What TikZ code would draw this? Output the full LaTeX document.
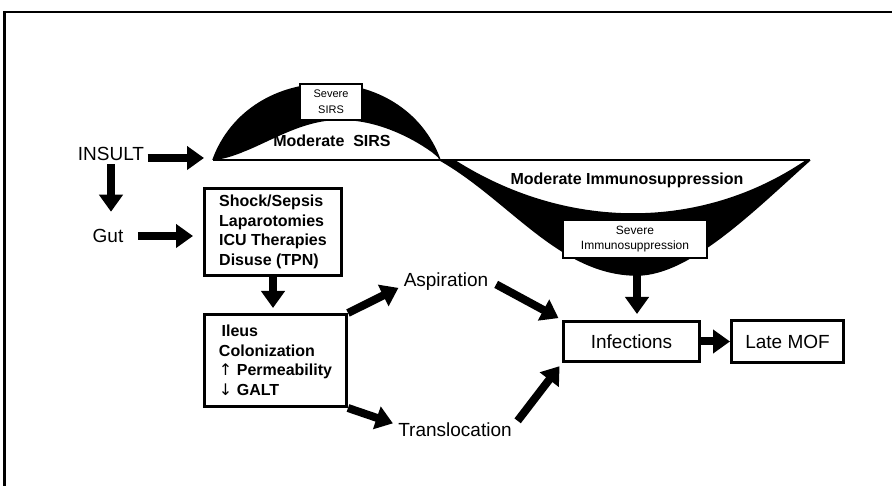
\documentclass[tikz,border=0pt]{standalone}
\usepackage{fontspec}
\setmainfont{Liberation Sans}
\newfontfamily\arrowfont{DejaVu Sans}
\usetikzlibrary{arrows.meta}
\begin{document}
\begin{tikzpicture}[x=1pt,y=-1pt,
  fat/.style={line width=8pt,-{Triangle[length=17pt,width=23pt]}},
  box/.style={draw,line width=3pt,inner sep=0pt,align=left,fill=white},
  smallbox/.style={draw,line width=1.6pt,inner sep=0pt,align=center,fill=white},
  big/.style={font=\fontsize{19}{22}\selectfont},
  boxtxt/.style={font=\bfseries\fontsize{16}{19.5}\selectfont},
  wavetxt/.style={font=\bfseries\fontsize{16}{19}\selectfont},
  declare function={
    pw(\s,\e)=exp(\e*ln(max(\s,0.01)));
  },
  ]
\useasboundingbox (0,0) rectangle (892,486);
% frame
\draw[line width=2.5pt] (4.5,486) -- (4.5,12) -- (892,12);

% wave coordinates
\coordinate (waveL) at (213,160);
\coordinate (cross) at (440,160);
\coordinate (waveR) at (810,160);
\coordinate (trough) at (637,275);
\coordinate (wavein) at (204,158);

% upper lobe (black band)
\fill (waveL) .. controls (250,59) and (403,59) .. (cross)
 -- plot[domain=440:340,samples=50] ({\x},{160-40*pw(sin(90*((440-\x)/100)),0.8)})
 -- plot[domain=340:213,samples=60] ({\x},{160-40*pw((1-cos(180*((\x-213)/127)))/2,0.8)})
 -- cycle;
% lower lobe (black band)
\fill (cross) .. controls (510,200) and (560,275) .. (trough)
 .. controls (690,275) and (755,209) .. (waveR)
 -- (806,160) .. controls (700,232) and (565,230) .. (455,160) -- cycle;
% outline of the S curve
\draw[line width=1.5pt] (waveL) .. controls (250,59) and (403,59) .. (cross)
 .. controls (510,200) and (560,275) .. (trough)
 .. controls (690,275) and (755,209) .. (waveR);
\draw[line width=1.5pt] (waveL) -- (waveR);

% wave labels
\node[smallbox,minimum width=62pt,minimum height=36pt,font=\fontsize{11}{16}\selectfont] (sevsirs) at (331,102) {Severe\\SIRS};
\node[wavetxt] (modsirs) at (332,141) {Moderate\ \ SIRS};
\node[wavetxt] (modimm) at (627,180) {Moderate Immunosuppression};
\node[smallbox,minimum width=144pt,minimum height=38pt,font=\fontsize{12}{15}\selectfont] (sevimm) at (635,239) {Severe\\Immunosuppression};

% text nodes
\node[big] (insult) at (111,154) {INSULT};
\node[big] (gut) at (108,236) {Gut};
\node[box,boxtxt,minimum width=137pt,minimum height=87pt] (shock) at (273,232)
  {Shock/Sepsis\\Laparotomies\\ICU Therapies\\Disuse (TPN)};
\node[box,boxtxt,minimum width=142pt,minimum height=92pt] (ileus) at (275.5,360.5)
  {\,Ileus\\Colonization\\{\arrowfont\mdseries ↑} Permeability\\{\arrowfont\mdseries ↓} GALT};
\node[big] (asp) at (446,282) {Aspiration};
\node[big] (trans) at (455,430) {Translocation};
\node[box,big,minimum width=136pt,minimum height=40pt,align=center] (inf) at (631.5,341.5) {Infections};
\node[box,big,minimum width=112pt,minimum height=42pt,align=center] (mof) at (787.5,341.5) {Late MOF};

% arrows
\draw[fat] (insult.east |- wavein) -- (wavein);
\draw[fat,shorten >=14pt] (insult.south) -- (insult.south |- gut.north);
\draw[fat,shorten <=11pt,shorten >=10pt] (gut.east) -- (gut.east -| shock.west);
\draw[fat,shorten >=5pt] (shock.south) -- (shock.south |- ileus.north);
\draw[fat,shorten >=2pt] (ileus.north east) -- ([yshift=-5pt]asp.west);
\draw[fat,shorten >=2pt] (ileus.south east) -- ([yshift=6pt]trans.west);
\draw[fat,shorten <=5pt,shorten >=4pt] (asp.east) -- (inf.north west);
\draw[fat,shorten <=4pt,shorten >=4pt] ([yshift=6pt]trans.east) -- (inf.south west);
\draw[fat,shorten >=6pt] (trough) -- (trough |- inf.north);
\draw[fat] (inf.east) -- (mof.west);
\end{tikzpicture}
\end{document}
